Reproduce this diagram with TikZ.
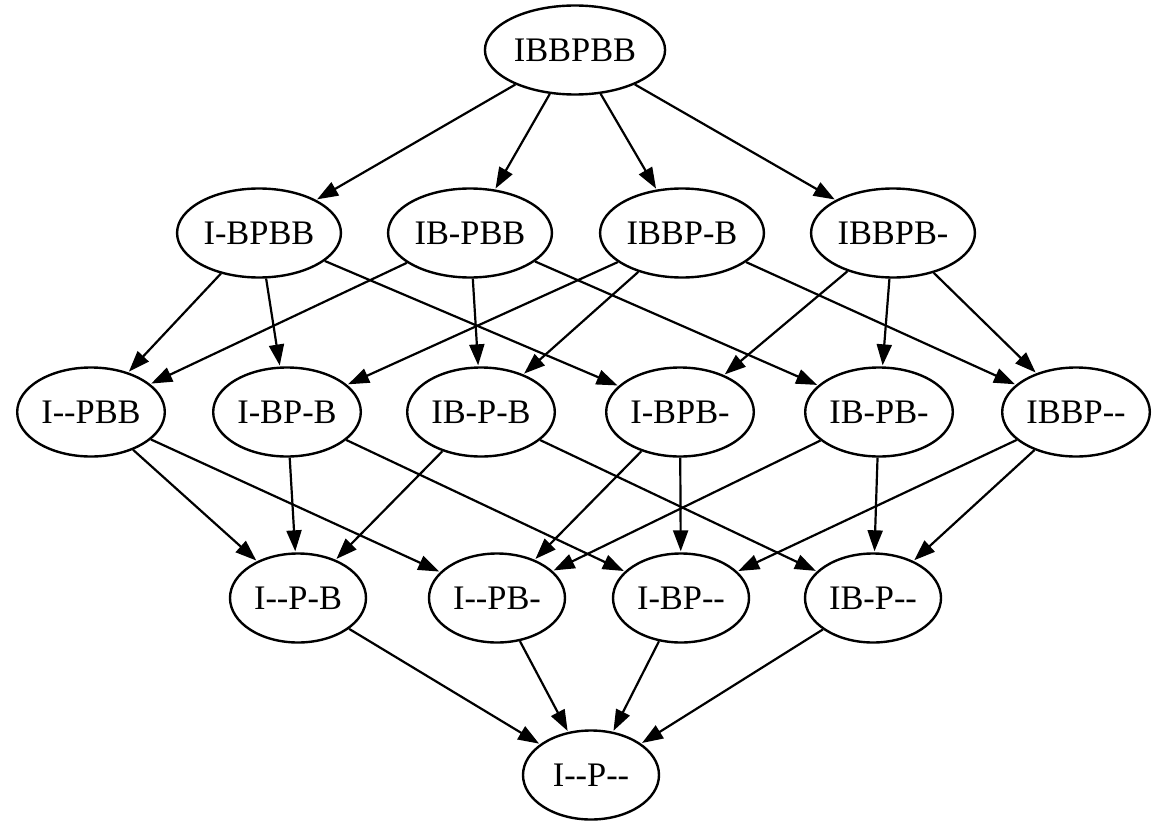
\documentclass[tikz,border=0pt]{standalone}
\usepackage{fontspec}
\setmainfont{Liberation Serif}
\usetikzlibrary{shapes.geometric,arrows.meta}
\tikzset{
  st/.style={ellipse, draw, line width=2.4pt, inner xsep=2.5pt, inner ysep=0pt,
    minimum height=89pt, minimum width=136pt,
    font=\fontsize{34.4}{40}\selectfont},
  ed/.style={line width=2.2pt, -{Triangle[length=21pt,width=15pt]}, shorten >=1pt}
}
\begin{document}
\begin{tikzpicture}[x=1pt,y=-1pt]
\useasboundingbox (0,0) rectangle (1159,824);
\node[st] (a) at (575,50) {IBBPBB};
\node[st] (b1) at (259,233) {I-BPBB};
\node[st] (b2) at (470,233) {IB-PBB};
\node[st] (b3) at (682,233) {IBBP-B};
\node[st] (b4) at (893,233) {IBBPB-};
\node[st] (c1) at (91,412) {I-{}-PBB};
\node[st] (c2) at (287,412) {I-BP-B};
\node[st] (c3) at (481,412) {IB-P-B};
\node[st] (c4) at (680,412) {I-BPB-};
\node[st] (c5) at (879,412) {IB-PB-};
\node[st] (c6) at (1076,412) {IBBP-{}-};
\node[st] (d1) at (298,598) {I-{}-P-B};
\node[st] (d2) at (497,598) {I-{}-PB-};
\node[st] (d3) at (681,598) {I-BP-{}-};
\node[st] (d4) at (873,598) {IB-P-{}-};
\node[st] (e) at (591,775) {I-{}-P-{}-};
\foreach \t in {b1,b2,b3,b4} \draw[ed] (a) -- (\t);
\draw[ed] (b1) -- (c1); \draw[ed] (b1) -- (c2); \draw[ed] (b1) -- (c4);
\draw[ed] (b2) -- (c1); \draw[ed] (b2) -- (c3); \draw[ed] (b2) -- (c5);
\draw[ed] (b3) -- (c2); \draw[ed] (b3) -- (c3); \draw[ed] (b3) -- (c6);
\draw[ed] (b4) -- (c4); \draw[ed] (b4) -- (c5); \draw[ed] (b4) -- (c6);
\draw[ed] (c1) -- (d1); \draw[ed] (c1) -- (d2);
\draw[ed] (c2) -- (d1); \draw[ed] (c2) -- (d3);
\draw[ed] (c3) -- (d1); \draw[ed] (c3) -- (d4);
\draw[ed] (c4) -- (d2); \draw[ed] (c4) -- (d3);
\draw[ed] (c5) -- (d2); \draw[ed] (c5) -- (d4);
\draw[ed] (c6) -- (d3); \draw[ed] (c6) -- (d4);
\foreach \s in {d1,d2,d3,d4} \draw[ed] (\s) -- (e);
\end{tikzpicture}
\end{document}
